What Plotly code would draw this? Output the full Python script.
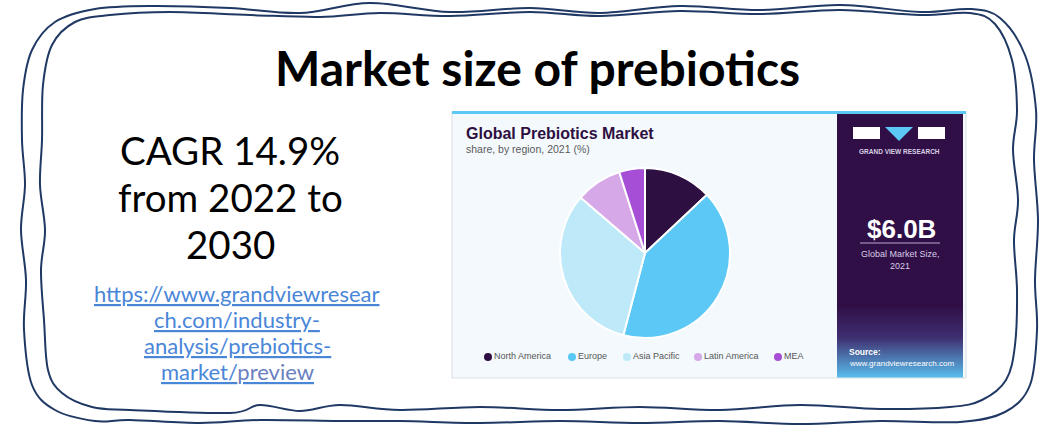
import plotly.graph_objects as go
import numpy as np

# ---------------- data ----------------
regions = ["North America", "Europe", "Asia Pacific", "Latin America", "MEA"]
shares = [13.0, 41.1, 32.2, 8.8, 4.9]
colors = ["#2d0f41", "#5bc8f5", "#bde9f9", "#d6a8e8", "#a64fd6"]
title = "Market size of prebiotics"
cagr_lines = ["CAGR 14.9%", "from 2022 to", "2030"]
link_lines = ["https://www.grandviewresear", "ch.com/industry-", "analysis/prebiotics-", "market/preview"]
market_size = "$6.0B"

W, H = 1050, 427
fig = go.Figure()

# hidden pixel axes
fig.update_layout(
    width=W, height=H, margin=dict(l=0, r=0, t=0, b=0),
    paper_bgcolor="white", plot_bgcolor="white",
    xaxis=dict(range=[0, W], visible=False, domain=[0, 1], fixedrange=True),
    yaxis=dict(range=[H, 0], visible=False, domain=[0, 1], fixedrange=True),
    showlegend=False,
)

def smooth_path(pts, closed=True):
    pts = [np.array(p, float) for p in pts]
    n = len(pts)
    d = f"M {pts[0][0]:.1f},{pts[0][1]:.1f} "
    rng = range(n) if closed else range(n - 1)
    for i in rng:
        p0 = pts[(i - 1) % n]
        p1 = pts[i]
        p2 = pts[(i + 1) % n]
        p3 = pts[(i + 2) % n]
        c1 = p1 + (p2 - p0) / 6
        c2 = p2 - (p3 - p1) / 6
        d += f"C {c1[0]:.1f},{c1[1]:.1f} {c2[0]:.1f},{c2[1]:.1f} {p2[0]:.1f},{p2[1]:.1f} "
    if closed:
        d += "Z"
    return d

outer = [(22, 140), (23, 90), (32, 50), (55, 22), (95, 9), (150, 6), (230, 8), (300, 13),
         (370, 3), (450, 12), (530, 8), (600, 13), (680, 6), (760, 10), (840, 5), (920, 12),
         (970, 9), (1000, 18), (1025, 55), (1036, 110), (1034, 160), (1038, 220), (1035, 280),
         (1037, 330), (1030, 385), (1005, 412), (960, 422), (880, 421), (800, 424), (720, 421),
         (640, 423), (560, 421), (480, 423), (400, 421), (340, 421), (260, 420), (200, 423),
         (130, 420), (95, 421), (55, 410), (32, 385), (24, 330), (26, 280), (21, 230), (25, 185)]
inner = [(42, 140), (43, 85), (52, 45), (75, 22), (110, 15), (170, 12), (250, 15), (320, 17),
         (380, 13), (450, 16), (530, 12), (600, 16), (680, 11), (760, 14), (840, 10), (920, 15),
         (970, 13), (995, 24), (1012, 60), (1017, 110), (1013, 150), (1018, 200), (1014, 240),
         (1017, 290), (1015, 345), (1006, 380), (982, 400), (950, 407), (880, 409), (800, 405),
         (720, 410), (640, 407), (560, 410), (480, 407), (400, 410), (340, 405), (300, 411),
         (260, 405), (230, 413), (130, 410), (92, 407), (62, 393), (48, 370), (44, 320),
         (41, 270), (45, 230), (40, 185)]
for pts in (outer, inner):
    fig.add_shape(type="path", path=smooth_path(pts), xref="x", yref="y",
                  line=dict(color="#1f3864", width=2), fillcolor="rgba(0,0,0,0)", layer="above")

# ---------------- embedded infographic ----------------
IX0, IX1, IY0, IY1 = 452, 966, 112, 378
fig.add_shape(type="rect", x0=IX0, x1=IX1, y0=IY0, y1=IY1, xref="x", yref="y",
              fillcolor="#f4f9fd", line=dict(color="#d9dee3", width=1), layer="below")
fig.add_shape(type="rect", x0=IX0, x1=IX1, y0=IY0 - 1, y1=IY0 + 2, xref="x", yref="y",
              fillcolor="#5bc8f5", line=dict(width=0), layer="below")
PX0, PX1 = 837, 963
fig.add_shape(type="rect", x0=PX0, x1=PX1, y0=IY0 + 2, y1=305, xref="x", yref="y",
              fillcolor="#300f47", line=dict(width=0), layer="below")

def lerp(c1, c2, t):
    a = [int(c1[i:i + 2], 16) for i in (1, 3, 5)]
    b = [int(c2[i:i + 2], 16) for i in (1, 3, 5)]
    return "#" + "".join(f"{round(a[i] + (b[i] - a[i]) * t):02x}" for i in range(3))

nstrip = 36
ys = np.linspace(305, 377, nstrip + 1)
for k in range(nstrip):
    t = k / (nstrip - 1)
    if t < 0.45:
        col = lerp("#300f47", "#3f2e70", t / 0.45)
    else:
        col = lerp("#3f2e70", "#58b8e8", (t - 0.45) / 0.55)
    fig.add_shape(type="rect", x0=PX0, x1=PX1, y0=ys[k], y1=ys[k + 1] + 0.5, xref="x", yref="y",
                  fillcolor=col, line=dict(width=0), layer="below")

# logo
fig.add_shape(type="rect", x0=853, x1=880, y0=127, y1=139, xref="x", yref="y",
              fillcolor="white", line=dict(width=0))
fig.add_shape(type="path", path="M 885,127 L 913,127 L 899,141 Z", xref="x", yref="y",
              fillcolor="#5bc8f5", line=dict(width=0))
fig.add_shape(type="rect", x0=918, x1=945, y0=127, y1=139, xref="x", yref="y",
              fillcolor="white", line=dict(width=0))
fig.add_shape(type="line", x0=860, x1=940, y0=243, y1=243, xref="x", yref="y",
              line=dict(color="#b9a9cc", width=1))

# pie
cx, cy, r = 645, 253, 85
fig.add_trace(go.Pie(
    labels=regions, values=shares, sort=False, direction="clockwise", rotation=0,
    marker=dict(colors=colors, line=dict(color="white", width=2)),
    textinfo="none", hoverinfo="label+percent", showlegend=False,
    domain=dict(x=[(cx - r) / W, (cx + r) / W], y=[1 - (cy + r) / H, 1 - (cy - r) / H]),
))

# legend (manual, circles)
legend_x = [488, 572, 627, 698, 778]
fig.add_trace(go.Scatter(
    x=legend_x, y=[357] * len(regions), mode="markers+text",
    marker=dict(color=colors, size=8), text=regions, textposition="middle right",
    textfont=dict(family="Liberation Sans, Arial", size=9, color="#555555"),
    hoverinfo="skip", cliponaxis=False,
))

ann = []
def A(x, y, text, size, color="black", family="Lato", xanchor="center", bold=False, **kw):
    if bold:
        text = f"<b>{text}</b>"
    ann.append(dict(x=x, y=y, xref="x", yref="y", text=text, showarrow=False,
                    xanchor=xanchor, yanchor="middle",
                    font=dict(family=family, size=size, color=color, **kw)))

A(537, 67, title, 48, bold=True)
for i, line in enumerate(cagr_lines):
    A(230, 150 + i * 47, line, 38.5)
link_col = "#4a86d8"
for i, line in enumerate(link_lines):
    txt = line
    if i == len(link_lines) - 1:
        txt = "market/<span style='color:#6a80c0'>preview</span>"
    A(237, 293 + i * 26, txt, 22, color=link_col, lineposition="under")

A(464, 133, "Global Prebiotics Market", 16, color="#2d0f41", family="Liberation Sans, Arial",
  xanchor="left", bold=True)
A(464, 149, "share, by region, 2021 (%)", 10.5, color="#5a5a5a", family="Liberation Sans, Arial",
  xanchor="left")
A(899, 151, "GRAND VIEW RESEARCH", 6.5, color="#d8d0e4", family="Liberation Sans, Arial", bold=True)
A(901, 229, market_size, 26, color="white", family="Liberation Sans, Arial", bold=True)
A(900, 254, "Global Market Size,", 9, color="#d8cde6", family="Liberation Sans, Arial")
A(900, 266, "2021", 9, color="#d8cde6", family="Liberation Sans, Arial")
A(847, 352, "Source:", 8.5, color="white", family="Liberation Sans, Arial", xanchor="left", bold=True)
A(847, 363, "www.grandviewresearch.com", 8, color="white", family="Liberation Sans, Arial",
  xanchor="left")

fig.update_layout(annotations=ann)
fig.write_html("out.html")
